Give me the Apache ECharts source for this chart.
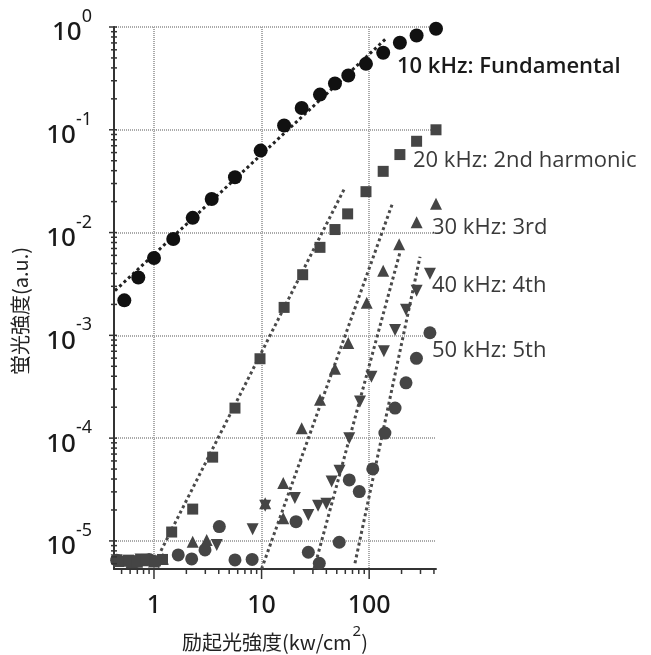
<!DOCTYPE html>
<html>
<head>
<meta charset="utf-8">
<script src="https://cdn.jsdelivr.net/npm/echarts@6/dist/echarts.min.js"></script>
<style>
html, body { margin: 0; padding: 0; background: #fff; }
#chart { width: 651px; height: 655px; }
</style>
</head>
<body>
<div id="chart"></div>
<script>
// axis ranges
const xMin = 0.425, xMax = 418;
const yMin = 5.33e-6, yMax = 1;

// 10 kHz fundamental
const fundX = [0.53, 0.715, 1.0, 1.51, 2.29, 3.44, 5.66, 9.81, 16.2, 23.6, 34.9, 48.1, 64.0, 93.4, 135, 193, 276, 418];
const fundY = [2.19e-3, 3.66e-3, 5.66e-3, 8.67e-3, 1.39e-2, 2.12e-2, 3.45e-2, 6.27e-2, 0.110, 0.163, 0.220, 0.282, 0.337, 0.438, 0.561, 0.702, 0.826, 0.96];

// 20 kHz 2nd harmonic
const h2X = [0.47, 0.58, 0.7, 0.85, 1.03, 1.2, 1.46, 2.29, 3.51, 5.66, 9.67, 16.2, 24.1, 34.9, 48.1, 63.1, 93.4, 135, 193, 276, 418];
const h2Y = [6.3e-6, 6.5e-6, 6.2e-6, 6.6e-6, 6.4e-6, 6.6e-6, 1.22e-5, 2.04e-5, 6.53e-5, 1.96e-4, 5.92e-4, 1.87e-3, 3.89e-3, 7.18e-3, 1.07e-2, 1.52e-2, 2.50e-2, 3.94e-2, 5.74e-2, 7.73e-2, 0.100];

// 30 kHz 3rd
const h3X = [0.5, 0.62, 0.79, 1.0, 1.21, 2.29, 3.09, 10.8, 15.9, 15.9, 23.6, 34.9, 48.1, 63.9, 94.9, 135, 190, 276, 418];
const h3Y = [6.4e-6, 6.2e-6, 6.5e-6, 6.3e-6, 6.7e-6, 9.84e-6, 1.02e-5, 2.33e-5, 1.66e-5, 3.65e-5, 1.25e-4, 2.36e-4, 4.73e-4, 8.41e-4, 2.08e-3, 4.26e-3, 7.71e-3, 1.26e-2, 1.91e-2];

// 40 kHz 4th
const h4X = [0.45, 0.56, 0.75, 0.92, 1.1, 3.83, 8.26, 10.8, 20.4, 27.2, 33.5, 40.0, 44.8, 53.0, 65.3, 82.2, 105, 137, 174, 220, 276, 367];
const h4Y = [6.5e-6, 6.3e-6, 6.6e-6, 6.4e-6, 6.2e-6, 9.14e-6, 1.30e-5, 2.2e-5, 2.61e-5, 1.79e-5, 2.2e-5, 2.3e-5, 3.78e-5, 4.81e-5, 1.0e-4, 2.27e-4, 3.95e-4, 7.0e-4, 1.13e-3, 1.77e-3, 2.72e-3, 3.98e-3];

// 50 kHz 5th
const h5X = [0.45, 0.67, 0.9, 1.68, 2.24, 2.98, 4.05, 5.66, 8.17, 20.9, 27.2, 34.4, 52.7, 65.3, 80.9, 108, 140, 174, 220, 275, 367];
const h5Y = [6.5e-6, 6.3e-6, 6.6e-6, 7.31e-6, 6.68e-6, 8.17e-6, 1.38e-5, 6.53e-6, 6.6e-6, 1.54e-5, 7.76e-6, 6.06e-6, 9.71e-6, 3.92e-5, 3.02e-5, 5.02e-5, 1.12e-4, 1.96e-4, 3.45e-4, 5.98e-4, 1.06e-3];

// dotted fit lines: [start, end]
const fundFit = [[0.434, 2.72e-3], [146, 0.785]];
const h2Fit = [[1.16, 8.0e-6], [58.3, 2.62e-2]];
const h3Fit = [[10.0, 5.33e-6], [166, 1.97e-2]];
const h4Fit = [[30.7, 5.33e-6], [193, 6.37e-3]];
const h5Fit = [[73.8, 6.07e-6], [297, 5.82e-3]];

const seriesNames = ['10 kHz: Fundamental', '20 kHz: 2nd harmonic', '30 kHz: 3rd', '40 kHz: 4th', '50 kHz: 5th'];

const zip = (xs, ys) => xs.map((x, i) => [x, ys[i]]);
const isDecade = v => Math.abs(Math.log10(v) - Math.round(Math.log10(v))) < 1e-6;

// log tick positions (1..9 per decade) inside the axis ranges
function logTicks(lo, hi) {
    const out = [];
    for (let e = Math.floor(Math.log10(lo)); e <= Math.ceil(Math.log10(hi)); e++) {
        for (let k = 1; k <= 9; k++) {
            const v = k * Math.pow(10, e);
            if (v >= lo * 1.0001 && v <= hi * 1.0001) out.push(v);
        }
    }
    return out;
}
const xTicks = logTicks(xMin, xMax);
const yTicks = logTicks(yMin, yMax);

const chart = echarts.init(document.getElementById('chart'));

const grey = '#454545';
const fitLine = (name, data, color) => ({
    name: name,
    type: 'line',
    data: data,
    symbol: 'none',
    silent: true,
    z: 1,
    lineStyle: { color: color, width: 3, type: [3, 3] }
});
const scatter = (name, data, symbol, color, size, rotate) => ({
    name: name,
    type: 'scatter',
    data: data,
    symbol: symbol,
    symbolSize: size,
    symbolRotate: rotate || 0,
    z: 3,
    itemStyle: { color: color, opacity: 1 }
});

const option = {
    animation: false,
    backgroundColor: '#fff',
    grid: {
        left: 114,
        right: 215,
        top: 27,
        bottom: 86,
        containLabel: false,
        outerBoundsMode: 'none'
    },
    xAxis: {
        type: 'log',
        logBase: 10,
        min: xMin,
        max: xMax,
        name: '{n|励起光強度(kw/cm}{s|2}{n|)}',
        nameLocation: 'middle',
        nameGap: 58,
        nameTextStyle: {
            rich: {
                n: { fontSize: 20, color: '#222', fontFamily: 'Noto Sans CJK JP', lineHeight: 24, padding: [6, 0, 0, 0] },
                s: { fontSize: 15, color: '#222', fontFamily: 'Noto Sans', lineHeight: 16, padding: [0, 0, 14, 1] }
            }
        },
        axisLine: { show: true, lineStyle: { color: '#333', width: 2 } },
        axisTick: { show: false },
        axisLabel: {
            margin: 24,
            fontSize: 25,
            fontWeight: 500,
            color: '#1a1a1a',
            fontFamily: 'Noto Sans',
            showMinLabel: false,
            showMaxLabel: false,
            formatter: v => isDecade(v) ? String(Math.round(v)) : ''
        },
        splitLine: {
            show: true,
            showMinLine: false,
            showMaxLine: false,
            lineStyle: { color: '#aaaaaa', width: 2, type: [1, 1] }
        }
    },
    yAxis: {
        type: 'log',
        logBase: 10,
        min: yMin,
        max: yMax,
        name: '蛍光強度(a.u.)',
        nameLocation: 'middle',
        nameGap: 84,
        nameTextStyle: {
            fontSize: 20,
            color: '#222',
            fontFamily: 'Noto Sans CJK JP',
            padding: [0, 26, 0, 0]
        },
        axisLine: { show: true, lineStyle: { color: '#333', width: 2 } },
        axisTick: { show: false },
        axisLabel: {
            margin: 22,
            color: '#1a1a1a',
            fontFamily: 'Noto Sans',
            showMinLabel: false,
            formatter: function (v) {
                if (!isDecade(v)) return '';
                const e = Math.round(Math.log10(v));
                return '{b|10}{s|' + (e === 0 ? '0' : '-' + (-e)) + '}';
            },
            rich: {
                b: { fontSize: 26, fontWeight: 500, lineHeight: 26, padding: [12, 0, 0, 0], color: '#1a1a1a', fontFamily: 'Noto Sans' },
                s: { fontSize: 18, lineHeight: 18, padding: [0, 0, 20, 0], color: '#1a1a1a', fontFamily: 'Noto Sans' }
            }
        },
        splitLine: {
            show: true,
            showMinLine: false,
            showMaxLine: true,
            lineStyle: { color: '#aaaaaa', width: 2, type: [1, 1] }
        }
    },
    graphic: [
        { type: 'text', left: 397, top: 56, style: { text: seriesNames[0], fontSize: 22, fontWeight: 600, fill: '#1a1a1a', fontFamily: 'Open Sans' } },
        { type: 'text', left: 413, top: 150, style: { text: seriesNames[1], fontSize: 22, fill: '#3a3a3a', fontFamily: 'Open Sans' } },
        { type: 'text', left: 432, top: 217, style: { text: seriesNames[2], fontSize: 22, fill: '#3a3a3a', fontFamily: 'Open Sans' } },
        { type: 'text', left: 432, top: 275, style: { text: seriesNames[3], fontSize: 22, fill: '#3a3a3a', fontFamily: 'Open Sans' } },
        { type: 'text', left: 432, top: 340, style: { text: seriesNames[4], fontSize: 22, fill: '#3a3a3a', fontFamily: 'Open Sans' } }
    ],
    series: [
        fitLine('fit1', fundFit, '#222'),
        fitLine('fit2', h2Fit, '#4a4a4a'),
        fitLine('fit3', h3Fit, '#4a4a4a'),
        fitLine('fit4', h4Fit, '#4a4a4a'),
        fitLine('fit5', h5Fit, '#4a4a4a'),
        scatter(seriesNames[4], zip(h5X, h5Y), 'circle', grey, 13),
        scatter(seriesNames[3], zip(h4X, h4Y), 'triangle', grey, 12, 180),
        scatter(seriesNames[2], zip(h3X, h3Y), 'triangle', grey, 12),
        scatter(seriesNames[1], zip(h2X, h2Y), 'rect', grey, 11),
        scatter(seriesNames[0], zip(fundX, fundY), 'circle', '#111', 14),
        {
            // x axis ticks (major + minor)
            type: 'custom',
            silent: true,
            clip: false,
            z: 5,
            data: xTicks.map(v => [v, yMin]),
            renderItem: function (params, api) {
                const p = api.coord([api.value(0), api.value(1)]);
                const len = isDecade(api.value(0)) ? 10 : 5;
                return {
                    type: 'line',
                    shape: { x1: p[0], y1: p[1], x2: p[0], y2: p[1] + len },
                    style: { stroke: '#333', lineWidth: 1.5 }
                };
            }
        },
        {
            // y axis ticks (major + minor)
            type: 'custom',
            silent: true,
            clip: false,
            z: 5,
            data: yTicks.map(v => [xMin, v]),
            renderItem: function (params, api) {
                const p = api.coord([api.value(0), api.value(1)]);
                const major = isDecade(api.value(1));
                return {
                    type: 'line',
                    shape: { x1: p[0] - (major ? 5 : 3), y1: p[1], x2: p[0] + 3, y2: p[1] },
                    style: { stroke: '#333', lineWidth: 1.5 }
                };
            }
        }
    ]
};

option && chart.setOption(option);
</script>
</body>
</html>
